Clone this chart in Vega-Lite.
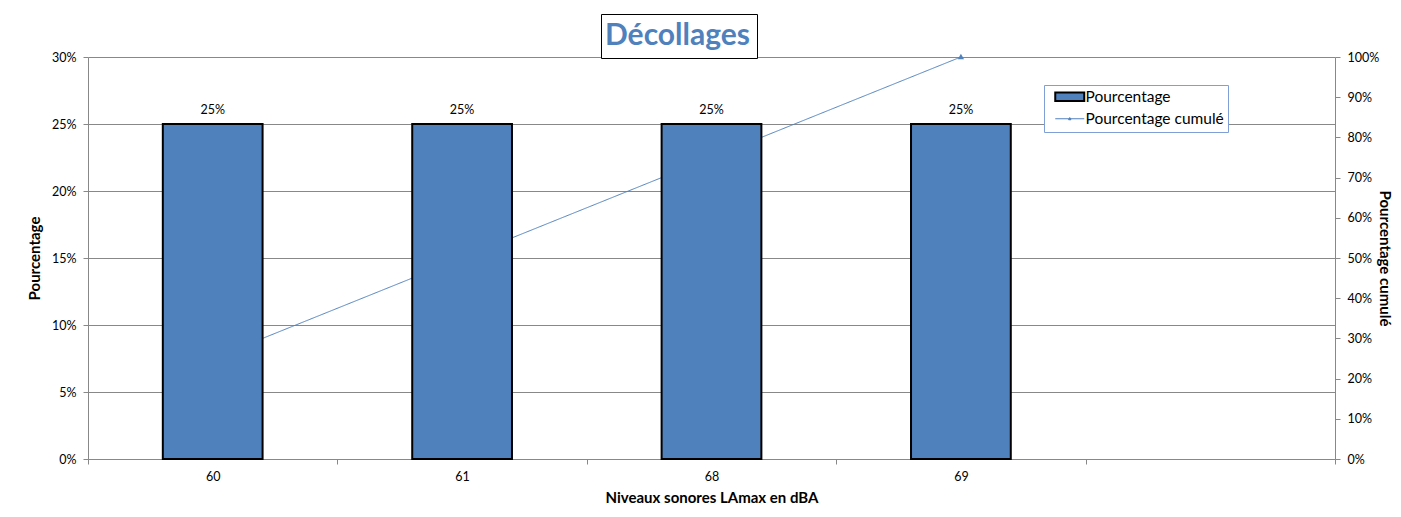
{
  "$schema": "https://vega.github.io/schema/vega-lite/v6.json",
  "width": 1247,
  "height": 402,
  "autosize": {"type": "none"},
  "padding": {"left": 88, "top": 57, "right": 66, "bottom": 58},
  "background": "white",
  "config": {
    "font": "Lato",
    "view": {"stroke": null},
    "axis": {
      "labelFont": "Lato",
      "labelFontSize": 12.5,
      "labelColor": "#000000",
      "titleFont": "Lato",
      "titleFontSize": 15,
      "titleFontWeight": "bold",
      "titleColor": "#000000",
      "domainColor": "#888888",
      "tickColor": "#888888",
      "gridColor": "#888888",
      "tickSize": 5
    },
    "legend": {
      "title": null,
      "orient": "none",
      "legendX": 956,
      "legendY": 28,
      "strokeColor": "#7F9FD6",
      "fillColor": "white",
      "padding": 4,
      "symbolOffset": 14,
      "symbolSize": 400,
      "labelFont": "Lato",
      "labelFontSize": 15.5,
      "labelColor": "#000000",
      "labelOffset": 8,
      "rowPadding": 5
    }
  },
  "data": {
    "values": [
      {"niveau": "60", "pct": 0.25, "cum": 0.25},
      {"niveau": "61", "pct": 0.25, "cum": 0.50},
      {"niveau": "68", "pct": 0.25, "cum": 0.75},
      {"niveau": "69", "pct": 0.25, "cum": 1.00}
    ]
  },
  "encoding": {
    "x": {
      "field": "niveau",
      "type": "nominal",
      "sort": null,
      "scale": {"domain": ["60", "61", "68", "69", ""], "paddingInner": 0, "paddingOuter": 0},
      "axis": {
        "title": "Niveaux sonores LAmax en dBA",
        "labelAngle": 0,
        "tickBand": "extent",
        "labelPadding": 6,
        "titlePadding": 8,
        "grid": false
      }
    }
  },
  "layer": [
    {
      "mark": {"type": "line", "strokeWidth": 1, "point": {"shape": "triangle-up", "size": 8, "filled": true, "fill": "#4F81BD"}},
      "encoding": {
        "y": {
          "field": "cum",
          "type": "quantitative",
          "scale": {"domain": [0, 1]},
          "axis": {
            "orient": "right",
            "title": "Pourcentage cumulé",
            "format": ".0%",
            "values": [0, 0.1, 0.2, 0.3, 0.4, 0.5, 0.6, 0.7, 0.8, 0.9, 1],
            "grid": false,
            "labelPadding": 7,
            "titlePadding": -2
          }
        },
        "strokeDash": {
          "datum": "Décollages",
          "scale": {"domain": ["Décollages"], "range": [[1, 0]]},
          "legend": {
            "title": null,
            "orient": "none",
            "legendX": 513,
            "legendY": -43,
            "strokeColor": "#000000",
            "fillColor": "white",
            "padding": 7,
            "symbolSize": 0,
            "symbolOpacity": 0,
            "symbolStrokeWidth": 0,
            "symbolOffset": 0,
            "labelOffset": -33,
            "labelFont": "Lato",
            "labelFontSize": 30,
            "labelFontWeight": "bold",
            "labelColor": "#4F81BD",
            "labelLimit": 400
          }
        },
        "stroke": {
          "datum": "Pourcentage cumulé",
          "legend": {
            "encode": {
              "symbols": {
                "update": {
                  "shape": {"signal": "datum.value === 'Pourcentage' ? 'M-1.45,-0.42H1.45V0.42H-1.45Z' : 'M-1.45,0H1.45M-0.12,0.1L0,-0.12L0.12,0.1Z'"},
                  "strokeWidth": {"signal": "datum.value === 'Pourcentage' ? 2 : 1"}
                }
              }
            }
          }
        }
      }
    },
    {
      "layer": [
        {
          "mark": {"type": "bar", "width": {"band": 0.4}, "strokeWidth": 2},
          "encoding": {
            "y": {
              "field": "pct",
              "type": "quantitative",
              "scale": {"domain": [0, 0.3]},
              "axis": {
                "orient": "left",
                "title": "Pourcentage",
                "format": ".0%",
                "values": [0, 0.05, 0.1, 0.15, 0.2, 0.25, 0.3],
                "grid": true,
                "labelPadding": 7,
                "titlePadding": 9
              }
            },
            "fill": {
              "datum": "Pourcentage",
              "scale": {"domain": ["Pourcentage", "Pourcentage cumulé"], "range": ["#4F81BD", "#4F81BD"]},
              "legend": {
                "encode": {
                  "symbols": {
                    "update": {
                      "shape": {"signal": "datum.value === 'Pourcentage' ? 'M-1.45,-0.42H1.45V0.42H-1.45Z' : 'M-1.45,0H1.45M-0.12,0.1L0,-0.12L0.12,0.1Z'"},
                      "strokeWidth": {"signal": "datum.value === 'Pourcentage' ? 2 : 1"}
                    }
                  }
                }
              }
            },
            "stroke": {
              "datum": "Pourcentage",
              "scale": {"domain": ["Pourcentage", "Pourcentage cumulé"], "range": ["#000000", "#4F81BD"]},
              "legend": {
                "encode": {
                  "symbols": {
                    "update": {
                      "shape": {"signal": "datum.value === 'Pourcentage' ? 'M-1.45,-0.42H1.45V0.42H-1.45Z' : 'M-1.45,0H1.45M-0.12,0.1L0,-0.12L0.12,0.1Z'"},
                      "strokeWidth": {"signal": "datum.value === 'Pourcentage' ? 2 : 1"}
                    }
                  }
                }
              }
            }
          }
        },
        {
          "mark": {"type": "text", "baseline": "bottom", "dy": -7, "font": "Lato", "fontSize": 12.5, "color": "#000000"},
          "encoding": {
            "y": {"field": "pct", "type": "quantitative"},
            "text": {"field": "pct", "type": "quantitative", "format": ".0%"}
          }
        }
      ]
    }
  ],
  "resolve": {"scale": {"y": "independent"}}
}
